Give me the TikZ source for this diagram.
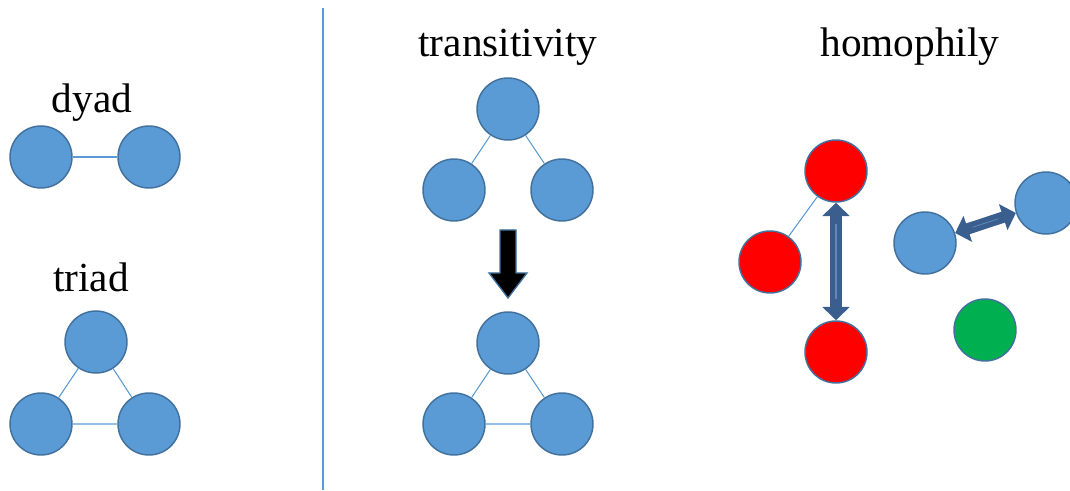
\documentclass[tikz,border=0pt]{standalone}
\usepackage{fontspec}
\setmainfont{Liberation Serif}
\usetikzlibrary{arrows.meta}
\definecolor{nodeblue}{HTML}{5B9BD5}
\definecolor{rimblue}{HTML}{41719C}
\definecolor{arrowblue}{HTML}{3A5F8F}
\definecolor{shineblue}{HTML}{5F88BC}
\definecolor{grn}{HTML}{00B050}
\tikzset{
  actor/.style={circle, inner sep=0pt, minimum size=46.5pt, draw=rimblue, line width=1.1pt, fill=nodeblue},
  red actor/.style={actor, fill=red},
  green actor/.style={actor, fill=grn},
  tie/.style={draw=nodeblue, line width=0.8pt},
  label text/.style={anchor=base, font=\fontsize{31}{36}\selectfont},
  both ways/.style={draw=arrowblue, line width=8.5pt,
    {Triangle[width=20pt,length=10pt]}-{Triangle[width=20pt,length=10pt]}}
}
\begin{document}
\begin{tikzpicture}[x=0.75pt, y=-0.75pt]
\useasboundingbox (0,0) rectangle (1070,491);
% divider
\draw[draw=nodeblue, line width=0.8pt] (323,8) -- (323,490);

% dyad
\node[label text] (dyadlbl) at (92,113) {dyad};
\node[actor] (d1) at (41,157) {};
\node[actor] (d2) at (149,157) {};
\draw[tie] (d1) -- (d2);

% triad
\node[label text] (triadlbl) at (91,292) {triad};
\node[actor] (t1) at (96,342) {};
\node[actor] (t2) at (41,424) {};
\node[actor] (t3) at (149,424) {};
\draw[tie] (t1) -- (t2) (t2) -- (t3) (t3) -- (t1);

% transitivity
\node[label text] (translbl) at (508,57) {transitivity};
\node[actor] (a1) at (508,109) {};
\node[actor] (a2) at (454,190) {};
\node[actor] (a3) at (562,190) {};
\draw[tie] (a1) -- (a2) (a1) -- (a3);
\draw[fill=black, draw=rimblue, line width=1pt]
  (500,230) -- (516,230) -- (516,273) -- (527,273) -- (508,298)
  -- (489,273) -- (500,273) -- cycle;
\node[actor] (b1) at (508,343) {};
\node[actor] (b2) at (454,424) {};
\node[actor] (b3) at (562,424) {};
\draw[tie] (b1) -- (b2) (b2) -- (b3) (b3) -- (b1);

% homophily
\node[label text] (homolbl) at (910,57) {homophily};
\node[red actor] (r1) at (836,171) {};
\node[red actor] (r2) at (770,262) {};
\node[red actor] (r3) at (836,352) {};
\draw[tie] (r1) -- (r2);
\draw[both ways] (r1) -- (r3);
\draw[draw=shineblue, line width=0.8pt, shorten >=16pt, shorten <=16pt] (r1) -- (r3);
\node[actor] (u1) at (925,243) {};
\node[actor] (u2) at (1046,203) {};
\draw[both ways] (u1) -- (u2);
\draw[draw=shineblue, line width=0.6pt, shorten >=14pt, shorten <=14pt] (u1) -- (u2);
\node[green actor] (g1) at (985,330) {};
\end{tikzpicture}
\end{document}
